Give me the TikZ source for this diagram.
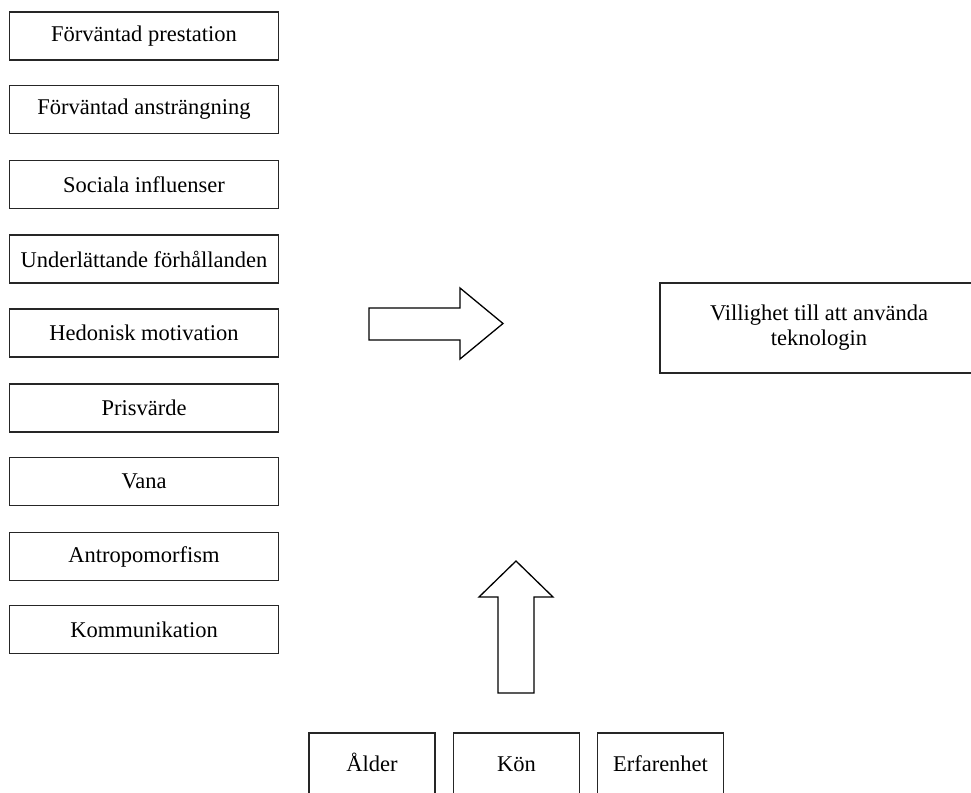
\documentclass[tikz,border=0pt]{standalone}
\usepackage{fontspec}
\setmainfont{Liberation Serif}
\begin{document}
\begin{tikzpicture}[x=1pt,y=-1pt,
  box/.style={draw=black!85,line width=1.3pt,rectangle,inner sep=0pt,
    minimum width=269pt,minimum height=48pt,font=\fontsize{22.5}{24}\selectfont},
  smallbox/.style={draw=black!85,line width=1.3pt,rectangle,inner sep=0pt,
    minimum width=126pt,minimum height=62pt,text height=20pt,text depth=5pt,
    font=\fontsize{22.5}{24}\selectfont},
  lbl/.style={inner sep=0pt,align=center,font=\fontsize{22.5}{24.5}\selectfont},
  blockarrow/.style={draw=black,line width=1.3pt,fill=white,line join=miter}]
\useasboundingbox (0,0) rectangle (971,792);
\clip (0,0) rectangle (971,792);
\fill[white] (0,0) rectangle (971,792);
% left column
\node[box] (b1) at (144,36) {Förväntad prestation};
\node[box] (b2) at (144,109.5) {Förväntad ansträngning};
\node[box] (b3) at (144,184.5) {Sociala influenser};
\node[box] (b4) at (144,259) {Underlättande förhållanden};
\node[box] (b5) at (144,333) {Hedonisk motivation};
\node[box] (b6) at (144,408) {Prisvärde};
\node[box] (b7) at (144,481.5) {Vana};
\node[box] (b8) at (144,556.5) {Antropomorfism};
\node[box] (b9) at (144,629.5) {Kommunikation};
% target box (clipped at right)
\draw[draw=black!85,line width=1.3pt] (660,283) rectangle (980,373);
\node[lbl] (target) at (819,327.5) {Villighet till att använda\\teknologin};
% moderators (clipped at bottom)
\node[smallbox] (m1) at (372,764) {Ålder};
\node[smallbox] (m2) at (516.5,764) {Kön};
\node[smallbox] (m3) at (660.5,764) {Erfarenhet};
% block arrows
\draw[blockarrow] (369,308) -- (460,308) -- (460,288) -- (503,323.5) -- (460,359) -- (460,340) -- (369,340) -- cycle;
\draw[blockarrow] (498,693) -- (498,597) -- (479,597) -- (516,561) -- (553,597) -- (534,597) -- (534,693) -- cycle;
\end{tikzpicture}
\end{document}
